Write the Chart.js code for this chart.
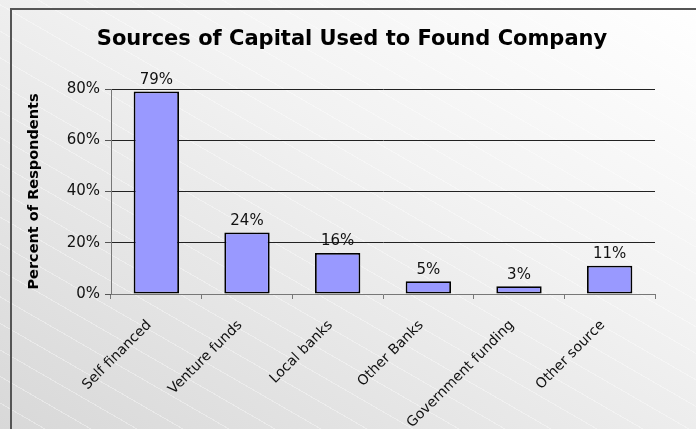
<!DOCTYPE html>
<html>
<head>
<meta charset="utf-8">
<script src="https://cdn.jsdelivr.net/npm/chart.js@4.4.1/dist/chart.umd.min.js"></script>
<style>
  html, body { margin: 0; padding: 0; }
  body {
    width: 696px; height: 429px; overflow: hidden;
    background:
      repeating-linear-gradient(30deg, rgba(255,255,255,0) 0px, rgba(255,255,255,0) 22px, rgba(255,255,255,0.35) 22px, rgba(255,255,255,0.35) 23px),
      linear-gradient(210deg, #ffffff 0%, #f2f2f2 40%, #d8d8d8 100%);
  }
  #frame {
    position: absolute; left: 10px; top: 8px; width: 700px; height: 440px;
    border-left: 2px solid #555; border-top: 2px solid #555;
  }
  #wrap { position: absolute; left: 0; top: 0; width: 696px; height: 429px; }
</style>
</head>
<body>
<div id="frame"></div>
<div id="wrap"><canvas id="capitalChart"></canvas></div>
<script>
// categories and percent of respondents
const sources = ['Self financed', 'Venture funds', 'Local banks', 'Other Banks', 'Government funding', 'Other source'];
const percents = [79, 24, 16, 5, 3, 11];
const yTicks = [0, 20, 40, 60, 80];
const chartTitle = 'Sources of Capital Used to Found Company';

const FONT = '"DejaVu Sans", Verdana, sans-serif';

// writes the value on top of each bar
const valueLabels = {
  id: 'valueLabels',
  afterDatasetsDraw(chart) {
    const ctx = chart.ctx;
    const meta = chart.getDatasetMeta(0);
    ctx.save();
    ctx.font = '15px ' + FONT;
    ctx.fillStyle = '#111';
    ctx.textAlign = 'center';
    ctx.textBaseline = 'bottom';
    meta.data.forEach((bar, i) => {
      ctx.fillText(percents[i] + '%', bar.x, bar.y - 4);
    });
    ctx.restore();
  }
};

// heading centred on the whole frame rather than the plot
const frameTitle = {
  id: 'frameTitle',
  afterDraw(chart) {
    const ctx = chart.ctx;
    ctx.save();
    ctx.font = 'bold 21px ' + FONT;
    ctx.fillStyle = '#000';
    ctx.textAlign = 'center';
    ctx.textBaseline = 'middle';
    ctx.fillText(chartTitle, 352, 40);
    ctx.restore();
  }
};

const ctx = document.getElementById('capitalChart').getContext('2d');
const capitalChart = new Chart(ctx, {
  type: 'bar',
  data: {
    labels: sources,
    datasets: [{
      data: percents,
      backgroundColor: '#9999ff',
      borderColor: '#000',
      borderWidth: 1.8,
      borderSkipped: false,
      barPercentage: 0.5,
      categoryPercentage: 1.0
    }]
  },
  options: {
    responsive: true,
    maintainAspectRatio: false,
    animation: false,
    layout: { padding: { left: 0, right: 41, top: 89, bottom: 0 } },
    plugins: {
      legend: { display: false },
      tooltip: { enabled: false },
      title: { display: false }
    },
    scales: {
      x: {
        grid: {
          offset: true,
          drawOnChartArea: false,
          drawTicks: true,
          tickLength: 5,
          color: '#777'
        },
        border: { color: '#777', width: 1 },
        ticks: {
          color: '#111',
          font: { family: FONT, size: 14 },
          maxRotation: 45,
          minRotation: 45,
          padding: 18,
          labelOffset: -7
        },
        afterFit(scale) { scale.height = 135; }
      },
      y: {
        min: 0,
        max: 80,
        afterBuildTicks(scale) { scale.ticks = yTicks.map(v => ({ value: v })); },
        grid: {
          color: ctx => ctx.tick && ctx.tick.value === 0 ? 'rgba(0,0,0,0)' : '#222',
          tickColor: '#555',
          tickLength: 6,
          drawTicks: true
        },
        border: { color: '#777', width: 1 },
        ticks: {
          color: '#111',
          font: { family: FONT, size: 15 },
          padding: 5,
          callback: v => v + '%'
        },
        title: {
          display: true,
          text: 'Percent of Respondents',
          color: '#000',
          font: { family: FONT, size: 14.5, weight: 'bold' },
          padding: { top: 26, bottom: 0 }
        },
        afterFit(scale) { scale.width = 111; }
      }
    }
  },
  plugins: [valueLabels, frameTitle]
});
</script>
</body>
</html>
